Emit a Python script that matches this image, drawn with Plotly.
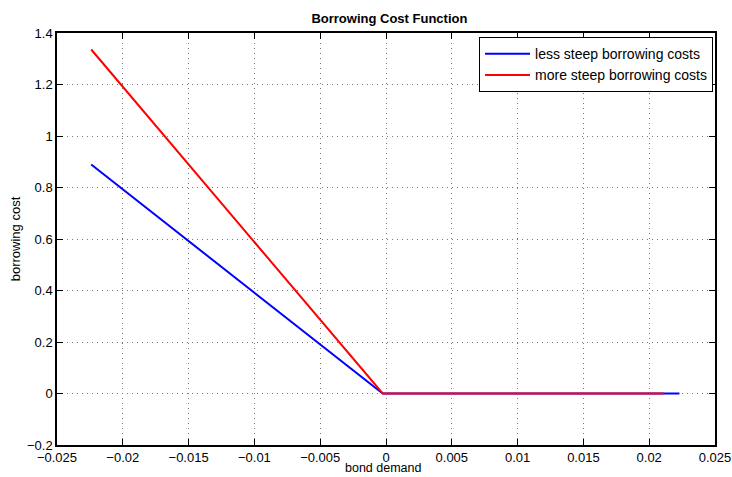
import plotly.graph_objects as go

blue_x = [-0.0224, -0.00025, 0.0223]
blue_y = [0.889, 0.0, 0.0]
red_x = [-0.0224, -0.00025, 0.0211]
red_y = [1.336, 0.0, 0.0]
xticks = [-0.025, -0.02, -0.015, -0.01, -0.005, 0, 0.005, 0.01, 0.015, 0.02, 0.025]
xtick_text = ["\u22120.025", "\u22120.02", "\u22120.015", "\u22120.01", "\u22120.005", "0", "0.005", "0.01", "0.015", "0.02", "0.025"]
yticks = [-0.2, 0, 0.2, 0.4, 0.6, 0.8, 1, 1.2, 1.4]
ytick_text = ["\u22120.2", "0", "0.2", "0.4", "0.6", "0.8", "1", "1.2", "1.4"]

FONT = "Liberation Sans, Arial"

fig = go.Figure()
fig.add_trace(go.Scatter(x=blue_x, y=blue_y, mode="lines", name="less steep borrowing costs",
                         line=dict(color="#0000ff", width=2)))
fig.add_trace(go.Scatter(x=red_x, y=red_y, mode="lines", name="more steep borrowing costs",
                         line=dict(color="#ff0000", width=2)))

axis_common = dict(showline=True, linecolor="black", linewidth=1.5, mirror="allticks",
                   ticks="inside", ticklen=6, tickcolor="black", automargin=False,
                   showgrid=True, gridcolor="#777777", griddash="1px,4px", gridwidth=1,
                   zeroline=False, tickfont=dict(family=FONT, size=13, color="black"))

fig.update_layout(
    width=732, height=477,
    margin=dict(l=57, r=17, t=33, b=32),
    paper_bgcolor="white", plot_bgcolor="white",
    title=dict(text="<b>Borrowing Cost Function</b>", x=0.532, xanchor="center", y=0.962, yanchor="middle",
               font=dict(family=FONT, size=13, color="black")),
    xaxis=dict(range=[-0.025, 0.025], tickvals=xticks, ticktext=xtick_text, **axis_common),
    yaxis=dict(range=[-0.2, 1.4], tickvals=yticks, ticktext=ytick_text,
               title=dict(text="borrowing cost", standoff=3,
                          font=dict(family=FONT, size=13, color="black")),
               **axis_common),
    legend=dict(x=0.997, y=0.99, xanchor="right", yanchor="top",
                bordercolor="black", borderwidth=1, bgcolor="white",
                font=dict(family=FONT, size=14, color="black"),
                tracegroupgap=0, itemwidth=45),
    showlegend=True,
    annotations=[dict(text="bond demand", xref="paper", yref="paper", x=0.496, y=-0.0775,
                      xanchor="center", yanchor="bottom", showarrow=False,
                      font=dict(family=FONT, size=12.5, color="black"))],
)

fig.write_html("out.html")
